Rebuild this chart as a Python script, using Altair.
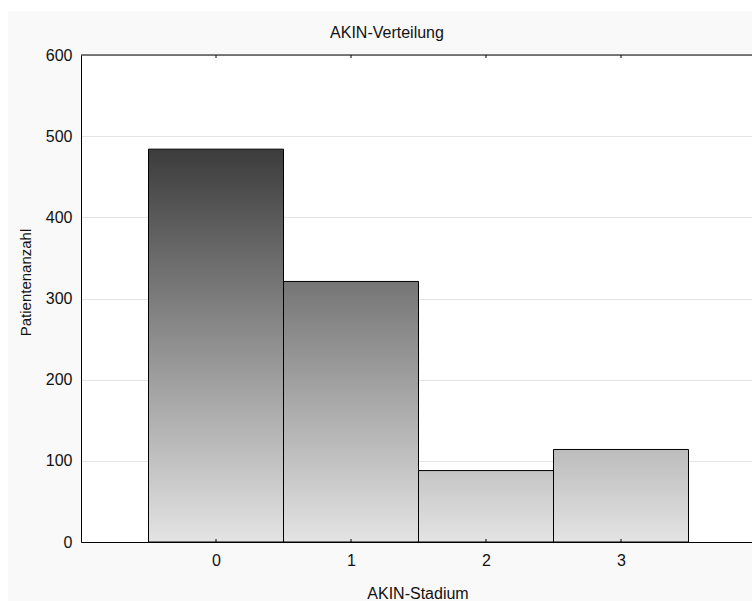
import altair as alt
import pandas as pd

# ---- data ----
stadium = [0, 1, 2, 3]
patients = [484, 321, 88, 114]
y_ticks = [0, 100, 200, 300, 400, 500, 600]

title_text = "AKIN-Verteilung"
x_title = "AKIN-Stadium"
y_title = "Patientenanzahl"

df = pd.DataFrame({"stadium": stadium, "n": patients})

PLOT_W = 671
PLOT_H = 487
FONT = "Liberation Sans"
TXT = "#111111"
FS = 16


def gray(v):
    # vertical gradient: light at 0, dark near the largest bar
    g = int(round(228 - 168 * v / 484))
    g = max(0, min(255, g))
    return "#%02x%02x%02x" % (g, g, g)


def grad(v):
    return {
        "gradient": "linear",
        "x1": 0, "y1": 0, "x2": 0, "y2": 1,
        "stops": [
            {"offset": 0, "color": gray(v)},
            {"offset": 1, "color": gray(0)},
        ],
    }


conds = [{"test": f"datum.stadium === {s}", "value": grad(v)}
         for s, v in zip(stadium[:-1], patients[:-1])]
fill_enc = {"condition": conds, "value": grad(patients[-1])}

xscale = alt.Scale(domain=[-1, -1 + PLOT_W / 135], nice=False, zero=False)
yscale = alt.Scale(domain=[0, 600], nice=False)

xaxis = alt.Axis(
    values=stadium, title=x_title, grid=False, ticks=False,
    domainColor="#000000", domainWidth=1,
    labelFont=FONT, labelFontSize=FS, labelColor=TXT, labelPadding=10,
    titleFont=FONT, titleFontSize=FS, titleColor=TXT, titleFontWeight="normal",
    titleX=336.5, titleY=51, titleBaseline="middle", titleAnchor="middle",
)
yaxis = alt.Axis(
    values=y_ticks, title=y_title, grid=True, gridColor="#e4e4e4", gridWidth=1,
    ticks=False, domainColor="#000000", domainWidth=1,
    labelFont=FONT, labelFontSize=FS, labelColor=TXT, labelPadding=9,
    titleFont=FONT, titleFontSize=15, titleColor=TXT, titleFontWeight="normal",
    titleX=-56, titleY=227, titleAngle=270, titleBaseline="middle",
    titleAlign="center",
)

base = alt.Chart(df)

bars = base.transform_calculate(
    xs="datum.stadium - 0.5", xe="datum.stadium + 0.5", zero="0"
).mark_rect(stroke="#000000", strokeWidth=1).encode(
    x=alt.X("xs:Q", scale=xscale, axis=xaxis),
    x2="xe:Q",
    y=alt.Y("n:Q", scale=yscale, axis=yaxis),
    y2="zero:Q",
    fill=fill_enc,
)

ticks_bottom = base.mark_rule(color="#000000", strokeWidth=1).encode(
    x=alt.X("stadium:Q", scale=xscale, axis=xaxis),
    y=alt.value(PLOT_H - 3), y2=alt.value(PLOT_H),
)
ticks_top = base.mark_rule(color="#000000", strokeWidth=1).encode(
    x=alt.X("stadium:Q", scale=xscale, axis=xaxis),
    y=alt.value(0), y2=alt.value(3),
)

one = alt.Chart(alt.Data(values=[{"t": title_text}]))
top_border = one.mark_rule(color="#000000", strokeWidth=1).encode(
    x=alt.value(0), x2=alt.value(PLOT_W), y=alt.value(0)
)
strip_left = one.mark_rect(color="#ffffff", clip=False).encode(
    x=alt.value(-81), x2=alt.value(-73), y=alt.value(-55), y2=alt.value(PLOT_H + 59)
)
strip_top = one.mark_rect(color="#ffffff", clip=False).encode(
    x=alt.value(-81), x2=alt.value(PLOT_W), y=alt.value(-55), y2=alt.value(-44)
)
title_mark = one.mark_text(
    font=FONT, fontSize=FS, color=TXT, align="center", baseline="middle",
    clip=False,
).encode(
    x=alt.value(306), y=alt.value(-22), text="t:N"
)

chart = alt.layer(
    strip_left, strip_top, bars, ticks_bottom, ticks_top, top_border, title_mark
).properties(
    width=PLOT_W,
    height=PLOT_H,
    autosize=alt.AutoSizeParams(type="none"),
    padding={"left": 81, "top": 55, "right": 0, "bottom": 59},
    background="#f9f9f9",
).configure_view(
    stroke=None, fill="#ffffff"
)

chart.save("out.html", embed_options={"renderer": "svg", "actions": False})
